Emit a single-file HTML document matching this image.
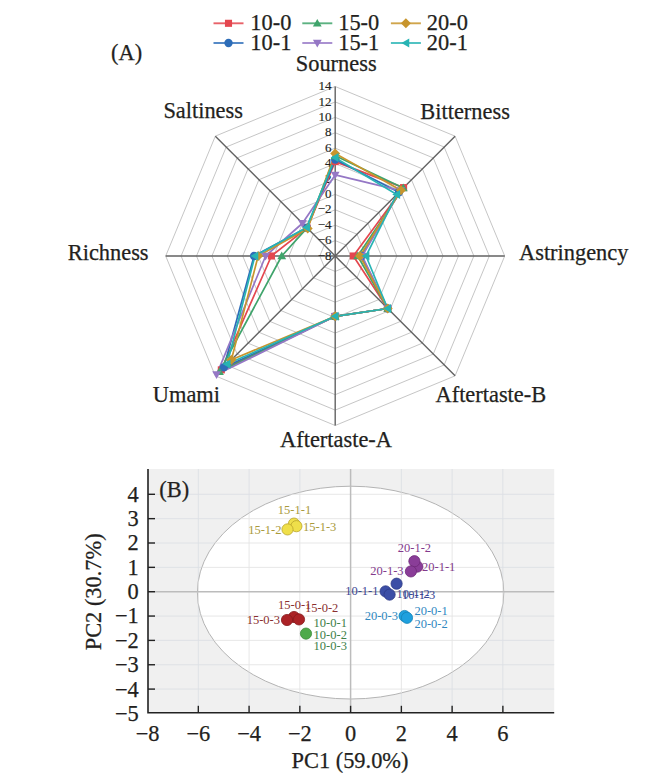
<!DOCTYPE html>
<html><head><meta charset="utf-8"><style>
html,body{margin:0;padding:0;background:#fff;}
body{width:650px;height:783px;overflow:hidden;}
svg{display:block;}
text{font-family:"Liberation Serif",serif;fill:#231f20;stroke:#231f20;stroke-width:0.25px;}
.tk{font-size:13px;stroke-width:0.15px;}
.lb{font-size:22.4px;}
.lg{font-size:22.4px;}
.pt{font-size:22.4px;}
.pl{font-size:12.5px;stroke:none;}
</style></head><body>
<svg width="650" height="783" viewBox="0 0 650 783">
<path d="M335.20,240.59 L346.10,245.10 L350.61,256.00 L346.10,266.90 L335.20,271.41 L324.30,266.90 L319.79,256.00 L324.30,245.10 Z" fill="none" stroke="#c6c6c6" stroke-width="1.0"/>
<path d="M335.20,225.18 L356.99,234.21 L366.02,256.00 L356.99,277.79 L335.20,286.82 L313.41,277.79 L304.38,256.00 L313.41,234.21 Z" fill="none" stroke="#c6c6c6" stroke-width="1.0"/>
<path d="M335.20,209.77 L367.89,223.31 L381.43,256.00 L367.89,288.69 L335.20,302.23 L302.51,288.69 L288.97,256.00 L302.51,223.31 Z" fill="none" stroke="#c6c6c6" stroke-width="1.0"/>
<path d="M335.20,194.36 L378.79,212.41 L396.84,256.00 L378.79,299.59 L335.20,317.64 L291.61,299.59 L273.56,256.00 L291.61,212.41 Z" fill="none" stroke="#c6c6c6" stroke-width="1.0"/>
<path d="M335.20,178.95 L389.68,201.52 L412.25,256.00 L389.68,310.48 L335.20,333.05 L280.72,310.48 L258.15,256.00 L280.72,201.52 Z" fill="none" stroke="#c6c6c6" stroke-width="1.0"/>
<path d="M335.20,163.54 L400.58,190.62 L427.66,256.00 L400.58,321.38 L335.20,348.46 L269.82,321.38 L242.74,256.00 L269.82,190.62 Z" fill="none" stroke="#c6c6c6" stroke-width="1.0"/>
<path d="M335.20,148.13 L411.48,179.72 L443.07,256.00 L411.48,332.28 L335.20,363.87 L258.92,332.28 L227.33,256.00 L258.92,179.72 Z" fill="none" stroke="#c6c6c6" stroke-width="1.0"/>
<path d="M335.20,132.72 L422.37,168.83 L458.48,256.00 L422.37,343.17 L335.20,379.28 L248.03,343.17 L211.92,256.00 L248.03,168.83 Z" fill="none" stroke="#c6c6c6" stroke-width="1.0"/>
<path d="M335.20,117.31 L433.27,157.93 L473.89,256.00 L433.27,354.07 L335.20,394.69 L237.13,354.07 L196.51,256.00 L237.13,157.93 Z" fill="none" stroke="#c6c6c6" stroke-width="1.0"/>
<path d="M335.20,101.90 L444.17,147.03 L489.30,256.00 L444.17,364.97 L335.20,410.10 L226.23,364.97 L181.10,256.00 L226.23,147.03 Z" fill="none" stroke="#c6c6c6" stroke-width="1.0"/>
<path d="M335.20,86.49 L455.06,136.14 L504.71,256.00 L455.06,375.86 L335.20,425.51 L215.34,375.86 L165.69,256.00 L215.34,136.14 Z" fill="none" stroke="#c6c6c6" stroke-width="1.0"/>
<line x1="335.20" y1="256.00" x2="335.20" y2="86.49" stroke="#626262" stroke-width="1.4"/>
<line x1="335.20" y1="256.00" x2="455.06" y2="136.14" stroke="#626262" stroke-width="1.4"/>
<line x1="335.20" y1="256.00" x2="504.71" y2="256.00" stroke="#626262" stroke-width="1.4"/>
<line x1="335.20" y1="256.00" x2="455.06" y2="375.86" stroke="#626262" stroke-width="1.4"/>
<line x1="335.20" y1="256.00" x2="335.20" y2="425.51" stroke="#626262" stroke-width="1.4"/>
<line x1="335.20" y1="256.00" x2="215.34" y2="375.86" stroke="#626262" stroke-width="1.4"/>
<line x1="335.20" y1="256.00" x2="165.69" y2="256.00" stroke="#626262" stroke-width="1.4"/>
<line x1="335.20" y1="256.00" x2="215.34" y2="136.14" stroke="#626262" stroke-width="1.4"/>
<text x="331.60" y="259.70" class="tk" text-anchor="end">−8</text>
<text x="331.60" y="244.29" class="tk" text-anchor="end">−6</text>
<text x="331.60" y="228.88" class="tk" text-anchor="end">−4</text>
<text x="331.60" y="213.47" class="tk" text-anchor="end">−2</text>
<text x="331.60" y="198.06" class="tk" text-anchor="end">0</text>
<text x="331.60" y="182.65" class="tk" text-anchor="end">2</text>
<text x="331.60" y="167.24" class="tk" text-anchor="end">4</text>
<text x="331.60" y="151.83" class="tk" text-anchor="end">6</text>
<text x="331.60" y="136.42" class="tk" text-anchor="end">8</text>
<text x="331.60" y="121.01" class="tk" text-anchor="end">10</text>
<text x="331.60" y="105.60" class="tk" text-anchor="end">12</text>
<text x="331.60" y="90.19" class="tk" text-anchor="end">14</text>
<path d="M335.20,161.61 L403.58,187.62 L353.31,256.00 L387.67,308.47 L335.20,316.33 L221.33,369.87 L271.40,256.00 L307.14,227.94 Z" fill="none" stroke="#e4474f" stroke-width="1.7" stroke-linejoin="round"/>
<path d="M335.20,159.61 L398.94,192.26 L361.40,256.00 L387.67,308.47 L335.20,316.33 L223.78,367.42 L254.07,256.00 L306.87,227.67 Z" fill="none" stroke="#2d6db8" stroke-width="1.7" stroke-linejoin="round"/>
<path d="M335.20,155.83 L403.30,187.90 L357.70,256.00 L387.67,308.47 L335.20,316.33 L219.48,371.72 L281.73,256.00 L307.14,227.94 Z" fill="none" stroke="#3fa46b" stroke-width="1.7" stroke-linejoin="round"/>
<path d="M335.20,174.94 L400.58,190.62 L362.17,256.00 L387.67,308.47 L335.20,316.33 L216.59,374.61 L265.62,256.00 L302.46,223.26 Z" fill="none" stroke="#9577c5" stroke-width="1.7" stroke-linejoin="round"/>
<path d="M335.20,153.52 L400.85,190.35 L360.01,256.00 L387.67,308.47 L335.20,316.33 L231.41,359.79 L258.15,256.00 L307.69,228.49 Z" fill="none" stroke="#c8952d" stroke-width="1.7" stroke-linejoin="round"/>
<path d="M335.20,157.61 L396.77,194.43 L366.02,256.00 L387.67,308.47 L335.20,316.33 L227.16,364.04 L254.91,256.00 L306.60,227.40 Z" fill="none" stroke="#27b4b4" stroke-width="1.7" stroke-linejoin="round"/>
<rect x="331.65" y="158.06" width="7.10" height="7.10" fill="#e4474f"/>
<rect x="400.03" y="184.07" width="7.10" height="7.10" fill="#e4474f"/>
<rect x="349.76" y="252.45" width="7.10" height="7.10" fill="#e4474f"/>
<rect x="384.12" y="304.92" width="7.10" height="7.10" fill="#e4474f"/>
<rect x="331.65" y="312.78" width="7.10" height="7.10" fill="#e4474f"/>
<rect x="217.78" y="366.32" width="7.10" height="7.10" fill="#e4474f"/>
<rect x="267.85" y="252.45" width="7.10" height="7.10" fill="#e4474f"/>
<rect x="303.59" y="224.39" width="7.10" height="7.10" fill="#e4474f"/>
<circle cx="335.20" cy="159.61" r="4.15" fill="#2d6db8"/>
<circle cx="398.94" cy="192.26" r="4.15" fill="#2d6db8"/>
<circle cx="361.40" cy="256.00" r="4.15" fill="#2d6db8"/>
<circle cx="387.67" cy="308.47" r="4.15" fill="#2d6db8"/>
<circle cx="335.20" cy="316.33" r="4.15" fill="#2d6db8"/>
<circle cx="223.78" cy="367.42" r="4.15" fill="#2d6db8"/>
<circle cx="254.07" cy="256.00" r="4.15" fill="#2d6db8"/>
<circle cx="306.87" cy="227.67" r="4.15" fill="#2d6db8"/>
<path d="M335.20,151.43 L339.60,159.13 L330.80,159.13 Z" fill="#3fa46b"/>
<path d="M403.30,183.50 L407.70,191.20 L398.90,191.20 Z" fill="#3fa46b"/>
<path d="M357.70,251.60 L362.10,259.30 L353.30,259.30 Z" fill="#3fa46b"/>
<path d="M387.67,304.07 L392.07,311.77 L383.27,311.77 Z" fill="#3fa46b"/>
<path d="M335.20,311.93 L339.60,319.63 L330.80,319.63 Z" fill="#3fa46b"/>
<path d="M219.48,367.32 L223.88,375.02 L215.08,375.02 Z" fill="#3fa46b"/>
<path d="M281.73,251.60 L286.13,259.30 L277.33,259.30 Z" fill="#3fa46b"/>
<path d="M307.14,223.54 L311.54,231.24 L302.74,231.24 Z" fill="#3fa46b"/>
<path d="M335.20,179.34 L339.60,171.64 L330.80,171.64 Z" fill="#9577c5"/>
<path d="M400.58,195.02 L404.98,187.32 L396.18,187.32 Z" fill="#9577c5"/>
<path d="M362.17,260.40 L366.57,252.70 L357.77,252.70 Z" fill="#9577c5"/>
<path d="M387.67,312.87 L392.07,305.17 L383.27,305.17 Z" fill="#9577c5"/>
<path d="M335.20,320.73 L339.60,313.03 L330.80,313.03 Z" fill="#9577c5"/>
<path d="M216.59,379.01 L220.99,371.31 L212.19,371.31 Z" fill="#9577c5"/>
<path d="M265.62,260.40 L270.02,252.70 L261.22,252.70 Z" fill="#9577c5"/>
<path d="M302.46,227.66 L306.86,219.96 L298.06,219.96 Z" fill="#9577c5"/>
<path d="M335.20,148.52 L340.20,153.52 L335.20,158.52 L330.20,153.52 Z" fill="#c8952d"/>
<path d="M400.85,185.35 L405.85,190.35 L400.85,195.35 L395.85,190.35 Z" fill="#c8952d"/>
<path d="M360.01,251.00 L365.01,256.00 L360.01,261.00 L355.01,256.00 Z" fill="#c8952d"/>
<path d="M387.67,303.47 L392.67,308.47 L387.67,313.47 L382.67,308.47 Z" fill="#c8952d"/>
<path d="M335.20,311.33 L340.20,316.33 L335.20,321.33 L330.20,316.33 Z" fill="#c8952d"/>
<path d="M231.41,354.79 L236.41,359.79 L231.41,364.79 L226.41,359.79 Z" fill="#c8952d"/>
<path d="M258.15,251.00 L263.15,256.00 L258.15,261.00 L253.15,256.00 Z" fill="#c8952d"/>
<path d="M307.69,223.49 L312.69,228.49 L307.69,233.49 L302.69,228.49 Z" fill="#c8952d"/>
<path d="M330.70,157.61 L338.57,153.11 L338.57,162.11 Z" fill="#27b4b4"/>
<path d="M392.27,194.43 L400.14,189.93 L400.14,198.93 Z" fill="#27b4b4"/>
<path d="M361.52,256.00 L369.39,251.50 L369.39,260.50 Z" fill="#27b4b4"/>
<path d="M383.17,308.47 L391.04,303.97 L391.04,312.97 Z" fill="#27b4b4"/>
<path d="M330.70,316.33 L338.57,311.83 L338.57,320.83 Z" fill="#27b4b4"/>
<path d="M222.66,364.04 L230.54,359.54 L230.54,368.54 Z" fill="#27b4b4"/>
<path d="M250.41,256.00 L258.29,251.50 L258.29,260.50 Z" fill="#27b4b4"/>
<path d="M302.10,227.40 L309.97,222.90 L309.97,231.90 Z" fill="#27b4b4"/>
<text x="336.2" y="70.5" class="lb" text-anchor="middle">Sourness</text>
<text x="420.3" y="118.8" class="lb" text-anchor="start">Bitterness</text>
<text x="519.0" y="260.0" class="lb" text-anchor="start">Astringency</text>
<text x="435.5" y="402.3" class="lb" text-anchor="start">Aftertaste-B</text>
<text x="336.0" y="446.8" class="lb" text-anchor="middle">Aftertaste-A</text>
<text x="220.0" y="402.0" class="lb" text-anchor="end">Umami</text>
<text x="148.6" y="260.4" class="lb" text-anchor="end">Richness</text>
<text x="243.0" y="117.9" class="lb" text-anchor="end">Saltiness</text>
<text x="111" y="59.5" class="lb">(A)</text>
<line x1="213.5" y1="23.3" x2="243.5" y2="23.3" stroke="#e4474f" stroke-width="1.9" stroke-opacity="0.85"/>
<rect x="224.95" y="19.75" width="7.10" height="7.10" fill="#e4474f"/>
<text x="250.3" y="29.9" class="lg">10-0</text>
<line x1="213.5" y1="43.0" x2="243.5" y2="43.0" stroke="#2d6db8" stroke-width="1.9" stroke-opacity="0.85"/>
<circle cx="228.50" cy="43.00" r="4.15" fill="#2d6db8"/>
<text x="250.3" y="49.6" class="lg">10-1</text>
<line x1="302.3" y1="23.3" x2="332.3" y2="23.3" stroke="#3fa46b" stroke-width="1.9" stroke-opacity="0.85"/>
<path d="M317.30,18.90 L321.70,26.60 L312.90,26.60 Z" fill="#3fa46b"/>
<text x="338.2" y="29.9" class="lg">15-0</text>
<line x1="302.3" y1="43.0" x2="332.3" y2="43.0" stroke="#9577c5" stroke-width="1.9" stroke-opacity="0.85"/>
<path d="M317.30,47.40 L321.70,39.70 L312.90,39.70 Z" fill="#9577c5"/>
<text x="338.2" y="49.6" class="lg">15-1</text>
<line x1="390.9" y1="23.3" x2="420.9" y2="23.3" stroke="#c8952d" stroke-width="1.9" stroke-opacity="0.85"/>
<path d="M405.90,18.30 L410.90,23.30 L405.90,28.30 L400.90,23.30 Z" fill="#c8952d"/>
<text x="426.8" y="29.9" class="lg">20-0</text>
<line x1="390.9" y1="43.0" x2="420.9" y2="43.0" stroke="#27b4b4" stroke-width="1.9" stroke-opacity="0.85"/>
<path d="M401.40,43.00 L409.27,38.50 L409.27,47.50 Z" fill="#27b4b4"/>
<text x="426.8" y="49.6" class="lg">20-1</text>
<rect x="148.0" y="469.0" width="406.2" height="243.8" fill="#f0f0f0"/>
<line x1="198.32" y1="469.0" x2="198.32" y2="712.8" stroke="#dde0e4" stroke-width="0.9"/>
<line x1="249.08" y1="469.0" x2="249.08" y2="712.8" stroke="#dde0e4" stroke-width="0.9"/>
<line x1="299.84" y1="469.0" x2="299.84" y2="712.8" stroke="#dde0e4" stroke-width="0.9"/>
<line x1="401.36" y1="469.0" x2="401.36" y2="712.8" stroke="#dde0e4" stroke-width="0.9"/>
<line x1="452.12" y1="469.0" x2="452.12" y2="712.8" stroke="#dde0e4" stroke-width="0.9"/>
<line x1="502.88" y1="469.0" x2="502.88" y2="712.8" stroke="#dde0e4" stroke-width="0.9"/>
<line x1="148.0" y1="689.10" x2="554.2" y2="689.10" stroke="#dde0e4" stroke-width="0.9"/>
<line x1="148.0" y1="664.75" x2="554.2" y2="664.75" stroke="#dde0e4" stroke-width="0.9"/>
<line x1="148.0" y1="640.40" x2="554.2" y2="640.40" stroke="#dde0e4" stroke-width="0.9"/>
<line x1="148.0" y1="616.05" x2="554.2" y2="616.05" stroke="#dde0e4" stroke-width="0.9"/>
<line x1="148.0" y1="567.35" x2="554.2" y2="567.35" stroke="#dde0e4" stroke-width="0.9"/>
<line x1="148.0" y1="543.00" x2="554.2" y2="543.00" stroke="#dde0e4" stroke-width="0.9"/>
<line x1="148.0" y1="518.65" x2="554.2" y2="518.65" stroke="#dde0e4" stroke-width="0.9"/>
<line x1="148.0" y1="494.30" x2="554.2" y2="494.30" stroke="#dde0e4" stroke-width="0.9"/>
<ellipse cx="350.6" cy="592.6" rx="153.2" ry="106.4" fill="#ffffff" stroke="#b4b4b4" stroke-width="1"/>
<clipPath id="ec"><ellipse cx="350.6" cy="592.6" rx="153.2" ry="106.4"/></clipPath>
<g clip-path="url(#ec)">
<line x1="198.32" y1="469.0" x2="198.32" y2="712.8" stroke="#e4e4e4" stroke-width="0.9"/>
<line x1="249.08" y1="469.0" x2="249.08" y2="712.8" stroke="#e4e4e4" stroke-width="0.9"/>
<line x1="299.84" y1="469.0" x2="299.84" y2="712.8" stroke="#e4e4e4" stroke-width="0.9"/>
<line x1="401.36" y1="469.0" x2="401.36" y2="712.8" stroke="#e4e4e4" stroke-width="0.9"/>
<line x1="452.12" y1="469.0" x2="452.12" y2="712.8" stroke="#e4e4e4" stroke-width="0.9"/>
<line x1="502.88" y1="469.0" x2="502.88" y2="712.8" stroke="#e4e4e4" stroke-width="0.9"/>
<line x1="148.0" y1="689.10" x2="554.2" y2="689.10" stroke="#e4e4e4" stroke-width="0.9"/>
<line x1="148.0" y1="664.75" x2="554.2" y2="664.75" stroke="#e4e4e4" stroke-width="0.9"/>
<line x1="148.0" y1="640.40" x2="554.2" y2="640.40" stroke="#e4e4e4" stroke-width="0.9"/>
<line x1="148.0" y1="616.05" x2="554.2" y2="616.05" stroke="#e4e4e4" stroke-width="0.9"/>
<line x1="148.0" y1="567.35" x2="554.2" y2="567.35" stroke="#e4e4e4" stroke-width="0.9"/>
<line x1="148.0" y1="543.00" x2="554.2" y2="543.00" stroke="#e4e4e4" stroke-width="0.9"/>
<line x1="148.0" y1="518.65" x2="554.2" y2="518.65" stroke="#e4e4e4" stroke-width="0.9"/>
<line x1="148.0" y1="494.30" x2="554.2" y2="494.30" stroke="#e4e4e4" stroke-width="0.9"/>
</g>
<line x1="350.60" y1="469.0" x2="350.60" y2="712.8" stroke="#bcbcbc" stroke-width="1.5"/>
<line x1="148.0" y1="591.70" x2="554.2" y2="591.70" stroke="#bcbcbc" stroke-width="1.5"/>
<path d="M148.0,469.0 L148.0,712.8 L554.2,712.8" fill="none" stroke="#222" stroke-width="1.6"/>
<line x1="148.0" y1="689.10" x2="155.0" y2="689.10" stroke="#222" stroke-width="1.4"/>
<line x1="148.0" y1="664.75" x2="155.0" y2="664.75" stroke="#222" stroke-width="1.4"/>
<line x1="148.0" y1="640.40" x2="155.0" y2="640.40" stroke="#222" stroke-width="1.4"/>
<line x1="148.0" y1="616.05" x2="155.0" y2="616.05" stroke="#222" stroke-width="1.4"/>
<line x1="148.0" y1="591.70" x2="155.0" y2="591.70" stroke="#222" stroke-width="1.4"/>
<line x1="148.0" y1="567.35" x2="155.0" y2="567.35" stroke="#222" stroke-width="1.4"/>
<line x1="148.0" y1="543.00" x2="155.0" y2="543.00" stroke="#222" stroke-width="1.4"/>
<line x1="148.0" y1="518.65" x2="155.0" y2="518.65" stroke="#222" stroke-width="1.4"/>
<line x1="148.0" y1="494.30" x2="155.0" y2="494.30" stroke="#222" stroke-width="1.4"/>
<line x1="198.32" y1="712.8" x2="198.32" y2="705.8" stroke="#222" stroke-width="1.4"/>
<line x1="249.08" y1="712.8" x2="249.08" y2="705.8" stroke="#222" stroke-width="1.4"/>
<line x1="299.84" y1="712.8" x2="299.84" y2="705.8" stroke="#222" stroke-width="1.4"/>
<line x1="350.60" y1="712.8" x2="350.60" y2="705.8" stroke="#222" stroke-width="1.4"/>
<line x1="401.36" y1="712.8" x2="401.36" y2="705.8" stroke="#222" stroke-width="1.4"/>
<line x1="452.12" y1="712.8" x2="452.12" y2="705.8" stroke="#222" stroke-width="1.4"/>
<line x1="502.88" y1="712.8" x2="502.88" y2="705.8" stroke="#222" stroke-width="1.4"/>
<text x="138.8" y="720.85" class="pt" text-anchor="end">−5</text>
<text x="138.8" y="696.50" class="pt" text-anchor="end">−4</text>
<text x="138.8" y="672.15" class="pt" text-anchor="end">−3</text>
<text x="138.8" y="647.80" class="pt" text-anchor="end">−2</text>
<text x="138.8" y="623.45" class="pt" text-anchor="end">−1</text>
<text x="138.8" y="599.10" class="pt" text-anchor="end">0</text>
<text x="138.8" y="574.75" class="pt" text-anchor="end">1</text>
<text x="138.8" y="550.40" class="pt" text-anchor="end">2</text>
<text x="138.8" y="526.05" class="pt" text-anchor="end">3</text>
<text x="138.8" y="501.70" class="pt" text-anchor="end">4</text>
<text x="147.56" y="740.80" class="pt" text-anchor="middle">−8</text>
<text x="198.32" y="740.80" class="pt" text-anchor="middle">−6</text>
<text x="249.08" y="740.80" class="pt" text-anchor="middle">−4</text>
<text x="299.84" y="740.80" class="pt" text-anchor="middle">−2</text>
<text x="350.60" y="740.80" class="pt" text-anchor="middle">0</text>
<text x="401.36" y="740.80" class="pt" text-anchor="middle">2</text>
<text x="452.12" y="740.80" class="pt" text-anchor="middle">4</text>
<text x="502.88" y="740.80" class="pt" text-anchor="middle">6</text>
<text x="350" y="767.5" class="pt" text-anchor="middle">PC1 (59.0%)</text>
<text transform="translate(100.8,591.8) rotate(-90)" class="pt" text-anchor="middle">PC2 (30.7%)</text>
<text x="159.3" y="497.4" class="pt">(B)</text>
<circle cx="294.0" cy="523.6" r="5.6" fill="#efdf4a" stroke="#b9a52c" stroke-width="0.8"/>
<circle cx="296.4" cy="526.2" r="5.6" fill="#efdf4a" stroke="#b9a52c" stroke-width="0.8"/>
<circle cx="287.5" cy="529.4" r="5.6" fill="#efdf4a" stroke="#b9a52c" stroke-width="0.8"/>
<circle cx="417.3" cy="566.6" r="5.6" fill="#8a3d98" stroke="#6e2a78" stroke-width="0.8"/>
<circle cx="414.4" cy="561.2" r="5.6" fill="#8a3d98" stroke="#6e2a78" stroke-width="0.8"/>
<circle cx="410.9" cy="571.4" r="5.6" fill="#8a3d98" stroke="#6e2a78" stroke-width="0.8"/>
<circle cx="396.6" cy="583.7" r="5.6" fill="#3c4ea6" stroke="#2d3a86" stroke-width="0.8"/>
<circle cx="385.6" cy="591.4" r="5.6" fill="#3c4ea6" stroke="#2d3a86" stroke-width="0.8"/>
<circle cx="389.6" cy="594.6" r="5.6" fill="#3c4ea6" stroke="#2d3a86" stroke-width="0.8"/>
<circle cx="404.6" cy="616.0" r="5.6" fill="#1ea0de" stroke="#1784b8" stroke-width="0.8"/>
<circle cx="407.0" cy="617.8" r="5.6" fill="#1ea0de" stroke="#1784b8" stroke-width="0.8"/>
<circle cx="294.0" cy="617.0" r="5.6" fill="#ab2226" stroke="#861a1d" stroke-width="0.8"/>
<circle cx="299.0" cy="619.4" r="5.6" fill="#ab2226" stroke="#861a1d" stroke-width="0.8"/>
<circle cx="287.0" cy="620.0" r="5.6" fill="#ab2226" stroke="#861a1d" stroke-width="0.8"/>
<circle cx="306.0" cy="633.6" r="5.6" fill="#4eaa4a" stroke="#3b8a38" stroke-width="0.8"/>
<text x="294.5" y="514.0" class="pl" text-anchor="middle" style="fill:#a99a3c">15-1-1</text>
<text x="281.5" y="533.5" class="pl" text-anchor="end" style="fill:#a99a3c">15-1-2</text>
<text x="303.0" y="530.5" class="pl" text-anchor="start" style="fill:#a99a3c">15-1-3</text>
<text x="414.4" y="552.0" class="pl" text-anchor="middle" style="fill:#833a8c">20-1-2</text>
<text x="422.0" y="571.0" class="pl" text-anchor="start" style="fill:#833a8c">20-1-1</text>
<text x="403.6" y="575.0" class="pl" text-anchor="end" style="fill:#833a8c">20-1-3</text>
<text x="378.5" y="595.4" class="pl" text-anchor="end" style="fill:#3a4793">10-1-1</text>
<text x="396.5" y="598.2" class="pl" text-anchor="start" style="fill:#3a4793">10-1-2</text>
<text x="402.0" y="599.4" class="pl" text-anchor="start" style="fill:#3a4793">10-1-3</text>
<text x="398.0" y="620.0" class="pl" text-anchor="end" style="fill:#2f88bf">20-0-3</text>
<text x="414.4" y="615.0" class="pl" text-anchor="start" style="fill:#2f88bf">20-0-1</text>
<text x="414.4" y="628.0" class="pl" text-anchor="start" style="fill:#2f88bf">20-0-2</text>
<text x="278.0" y="609.2" class="pl" text-anchor="start" style="fill:#8a2f2f">15-0-1</text>
<text x="305.0" y="612.4" class="pl" text-anchor="start" style="fill:#8a2f2f">15-0-2</text>
<text x="280.0" y="624.4" class="pl" text-anchor="end" style="fill:#8a2f2f">15-0-3</text>
<text x="313.6" y="627.4" class="pl" text-anchor="start" style="fill:#3d8048">10-0-1</text>
<text x="313.6" y="639.0" class="pl" text-anchor="start" style="fill:#3d8048">10-0-2</text>
<text x="313.6" y="650.0" class="pl" text-anchor="start" style="fill:#3d8048">10-0-3</text>
</svg>
</body></html>
